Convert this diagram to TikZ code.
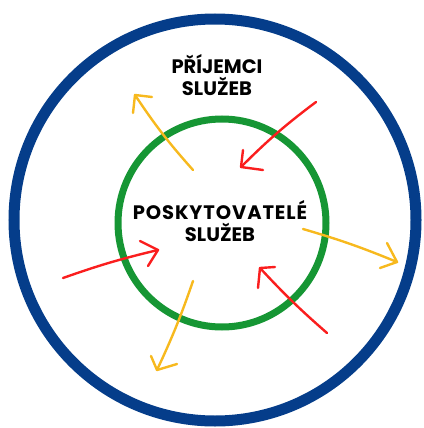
\documentclass[tikz,border=0pt]{standalone}
\usepackage{fontspec}
\newfontfamily\labfont{Poppins}
\makeatletter
\newcommand\lspaced[2]{\def\lsp@k{\kern#1}\@tfor\lsp@c:=#2\do{\lsp@c\lsp@k}\unkern}
\makeatother
\definecolor{cblue}{RGB}{5,61,138}
\definecolor{cgreen}{RGB}{22,150,52}
\definecolor{cyel}{RGB}{247,185,30}
\definecolor{cred}{RGB}{250,30,30}
\begin{document}
\begin{tikzpicture}[x=1pt,y=-1pt,
  arr/.style={line width=2.4pt, line cap=round, line join=round},
  lab/.style={font=\labfont\bfseries\fontsize{19.5}{21.5}\selectfont, align=center, text=black, inner sep=0pt}]
\useasboundingbox (0,0) rectangle (423,428);
\draw[cblue, line width=11pt] (215,220) circle[radius=201];
\draw[cgreen, line width=7pt] (222,223) circle[radius=104];
\node[lab] (recv) at (217,75) {PŘÍJEMCI\\SLUŽEB};
\node[lab] (prov) at (220,221) {\lspaced{0.9pt}{POSKYTOVATELÉ}\\SLUŽEB};
% yellow upper-left
\coordinate (yulT) at (193,170); \coordinate (yulH) at (135,95);
\draw[arr,cyel] (yulT) to[bend left=4] (yulH);
\draw[arr,cyel] (152,97) -- (yulH) -- (133,113);
% red upper-right
\coordinate (rurT) at (316,102); \coordinate (rurH) at (241,167);
\draw[arr,cred] (rurT) to[bend right=4] (rurH);
\draw[arr,cred] (243,150) -- (rurH) -- (263,170);
% red left
\coordinate (rlT) at (63,278); \coordinate (rlH) at (158,250);
\draw[arr,cred] (rlT) to[bend left=3] (rlH);
\draw[arr,cred] (140,241) -- (rlH) -- (148,266);
% red lower-right
\coordinate (rlrT) at (327,333); \coordinate (rlrH) at (260,268);
\draw[arr,cred] (rlrT) to[bend left=3] (rlrH);
\draw[arr,cred] (275,267) -- (rlrH) -- (258,288);
% yellow bottom
\coordinate (ybT) at (193,281); \coordinate (ybH) at (157,370);
\draw[arr,cyel] (ybT) to[bend left=3] (ybH);
\draw[arr,cyel] (151,356) -- (ybH) -- (177,364);
% yellow right
\coordinate (yrT) at (303,229); \coordinate (yrH) at (397,262);
\draw[arr,cyel] (yrT) to[bend left=3] (yrH);
\draw[arr,cyel] (387,243) -- (yrH) -- (380,268);
\end{tikzpicture}
\end{document}
